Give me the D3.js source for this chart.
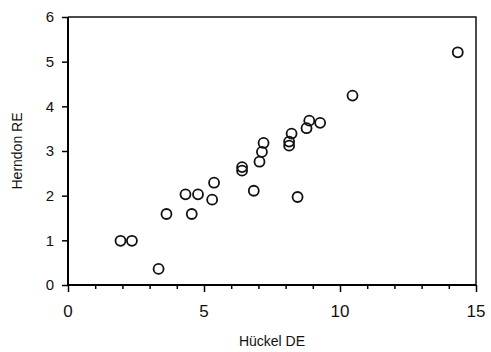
<!DOCTYPE html>
<html lang="en">
<head>
<meta charset="utf-8">
<title>Herndon RE vs Hückel DE</title>
<script src="https://cdn.jsdelivr.net/npm/d3@7"></script>
<style>
  body { margin: 0; background: #fff; }
  text { font-family: "Liberation Sans", Arial, sans-serif; fill: #111; }
</style>
</head>
<body>
<script>
// data
var huckelDE = [14.33, 10.46, 9.27, 8.87, 8.77, 8.22, 8.13, 8.13, 7.19, 7.13, 7.04, 6.40,
                6.40, 6.83, 8.44, 5.37, 4.32, 4.78, 5.30, 3.62, 4.55, 1.93, 2.35, 3.33];
var herndonRE = [5.21, 4.24, 3.63, 3.68, 3.51, 3.39, 3.21, 3.12, 3.18, 2.98, 2.76, 2.64,
                 2.56, 2.11, 1.97, 2.29, 2.03, 2.03, 1.91, 1.59, 1.59, 0.99, 0.99, 0.36];
var xTicks = [0, 5, 10, 15];
var xMinor = d3.range(0, 16, 1);
var yTicks = [0, 1, 2, 3, 4, 5, 6];

// (window.top is read-only, so no "top" here)
var w = 491, h = 352;
var padL = 68, padR = 476, padT = 17, padB = 285;

var x = d3.scaleLinear().domain([0, 15]).range([padL, padR]);
var y = d3.scaleLinear().domain([0, 6]).range([padB, padT]);

var svg = d3.select("body").append("svg")
  .attr("width", w)
  .attr("height", h);

// frame (top + right)
svg.append("path")
  .attr("d", "M" + padL + "," + padT + "H" + padR + "V" + padB)
  .attr("fill", "none")
  .attr("stroke", "#111")
  .attr("stroke-width", 1.5);

// x axis: minor ticks every unit, labels at 0,5,10,15
var xAxis = svg.append("g").attr("transform", "translate(0," + padB + ")");
xAxis.call(d3.axisBottom(x).tickValues(xMinor).tickSize(4).tickFormat(""));
xAxis.selectAll(".tick line")
  .attr("stroke-width", 1.5)
  .attr("y2", function(d) { return d % 5 === 0 ? 7 : 4; });
xAxis.select(".domain").attr("stroke-width", 2).attr("d", "M" + padL + ",0H" + padR);
xAxis.selectAll(".tick text").remove();

svg.append("g").selectAll("text")
  .data(xTicks)
  .enter()
  .append("text")
  .attr("x", function(d) { return x(d); })
  .attr("y", 317)
  .attr("text-anchor", "middle")
  .attr("font-size", "17px")
  .text(function(d) { return d; });

// y axis
var yAxis = svg.append("g").attr("transform", "translate(" + padL + ",0)");
yAxis.call(d3.axisLeft(y).tickValues(yTicks).tickFormat(d3.format("d")).tickSize(6).tickPadding(8));
yAxis.select(".domain").attr("stroke-width", 2).attr("d", "M0," + padT + "V" + padB);
yAxis.selectAll(".tick line").attr("stroke-width", 1.5);
yAxis.selectAll(".tick text")
  .attr("font-size", "15px")
  .attr("font-family", "'Liberation Sans', Arial, sans-serif")
  .attr("fill", "#111");

// axis titles
svg.append("text")
  .attr("x", (padL + padR) / 2)
  .attr("y", 346)
  .attr("text-anchor", "middle")
  .attr("font-size", "14px")
  .text("Hückel DE");

svg.append("text")
  .attr("transform", "translate(22," + ((padT + padB) / 2) + ") rotate(-90)")
  .attr("text-anchor", "middle")
  .attr("font-size", "14px")
  .text("Herndon RE");

// points
svg.append("g").selectAll("circle")
  .data(huckelDE)
  .enter()
  .append("circle")
  .attr("cx", function(d) { return x(d); })
  .attr("cy", function(d, i) { return y(herndonRE[i]); })
  .attr("r", 5)
  .attr("fill", "none")
  .attr("stroke", "#111")
  .attr("stroke-width", 1.8);
</script>
</body>
</html>
